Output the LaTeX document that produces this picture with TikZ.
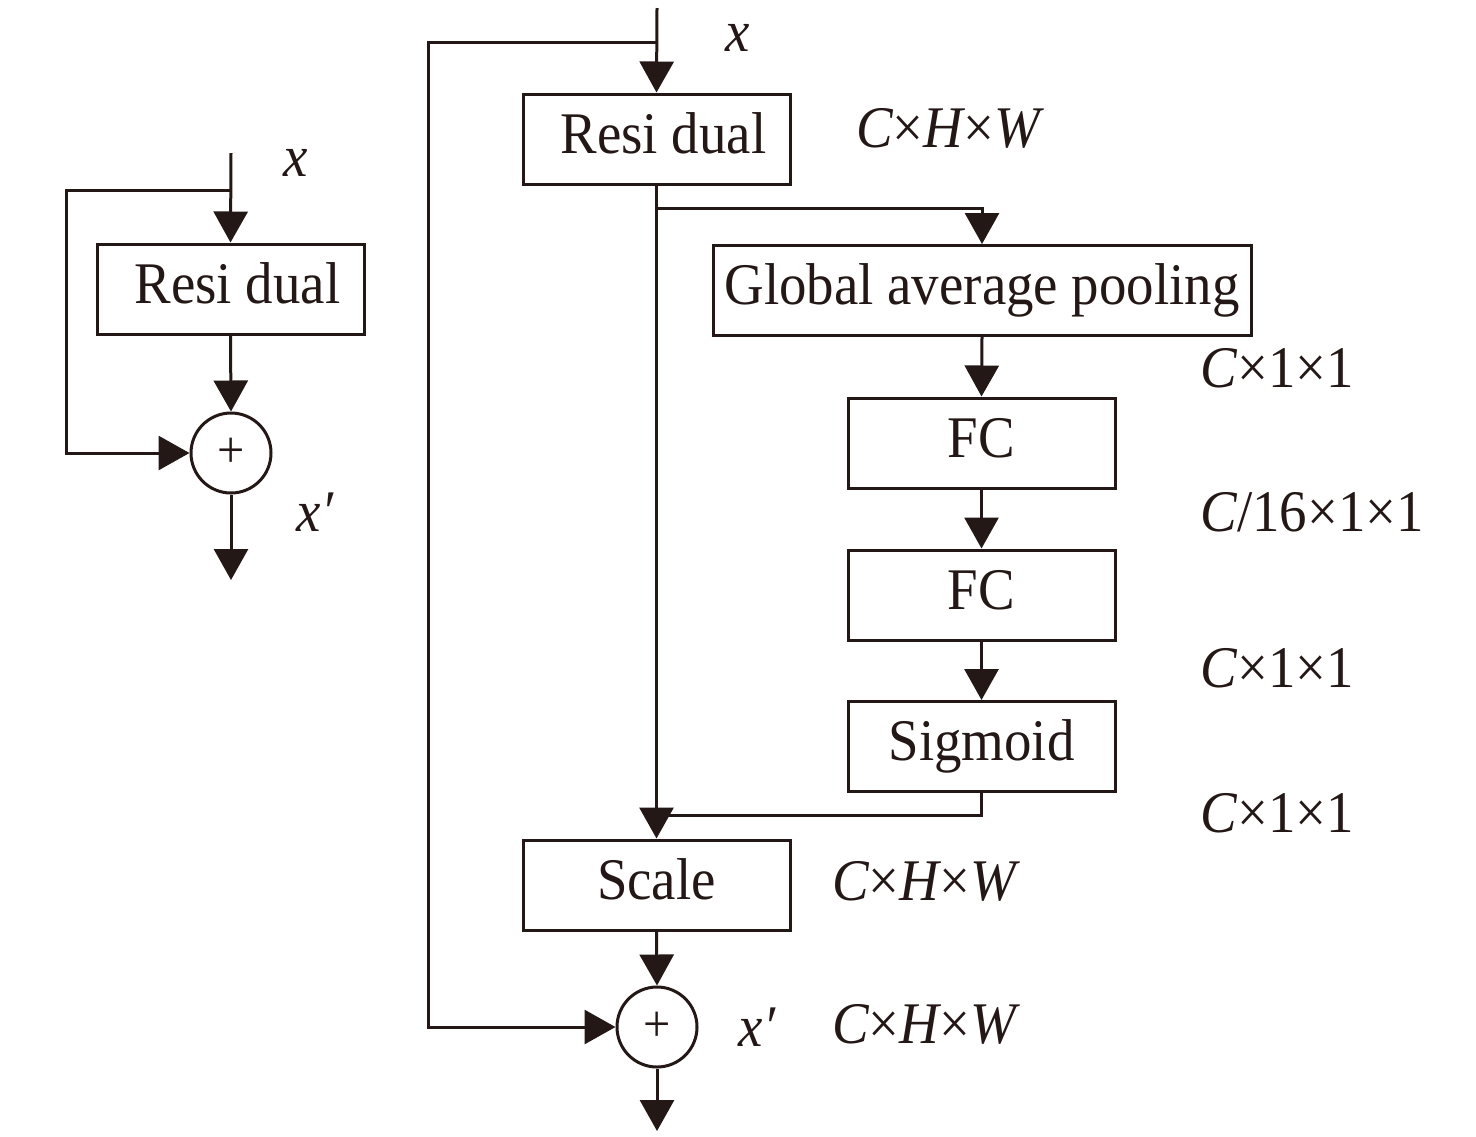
\documentclass[tikz,border=0pt]{standalone}
\usepackage{fontspec}
\setmainfont{Liberation Serif}[FakeStretch=0.93]
\usetikzlibrary{arrows.meta}
\definecolor{ink}{RGB}{35,24,21}
\tikzset{
  big/.style={font=\fontsize{29.5}{32}\selectfont},
  blockbox/.style={draw, rectangle, inner sep=0pt, minimum width=133.5pt, minimum height=45pt,
    text height=20pt, text depth=6pt, big},
  sumnode/.style={draw, circle, inner sep=0pt, minimum size=40pt, font=\fontsize{26}{26}\selectfont},
  lbl/.style={inner sep=0pt, big},
  arr/.style={-{Triangle[length=15.5pt,width=17pt]}},
}
\begin{document}
\begin{tikzpicture}[x=0.5pt,y=-0.5pt, line width=1.5pt, color=ink]
\useasboundingbox (0,0) rectangle (1476,1136);

% ---------- left diagram ----------
\coordinate (lin) at (231,153);
\coordinate (lsplit) at (231,190);
\coordinate (lleft) at (66,190);
\node[blockbox] (lbox) at (230.5,289) {\hspace*{7pt}Resi dual};
\node[sumnode] (lplus) at (231,453) {+};
\coordinate (lout) at (231,580);
\node[lbl] (lx) at (296,163) {\itshape x};
\node[lbl] (lxp) at (315,512) {\itshape x′};

\draw[arr] (lin) -- (lbox.north);
\draw[arr] (lsplit) -- (lleft) |- (lplus.west);
\draw[arr] (lbox.south) -- (lplus.north);
\draw[arr] (lplus.south) -- (lout);

% ---------- right diagram ----------
\coordinate (rin) at (657,8);
\coordinate (rsplit) at (657,42);
\coordinate (rleft) at (428,42);
\node[blockbox] (rbox) at (656.5,139) {\hspace*{7pt}Resi dual};
\coordinate (gsplit) at (657,208);
\node[blockbox, minimum width=269pt] (gap) at (982,290.5) {Global average pooling};
\node[blockbox] (fc1) at (981.5,443) {FC};
\node[blockbox] (fc2) at (981.5,595) {FC};
\node[blockbox] (sig) at (981.5,746.5) {Sigmoid};
\coordinate (join) at (657,815);
\node[blockbox] (scale) at (656.5,885) {Scale};
\node[sumnode] (rplus) at (657,1027) {+};
\coordinate (rout) at (657,1131);

\node[lbl] (rx) at (738,38) {\itshape x};
\node[lbl] (d1) at (948,128) {\itshape C\upshape×\itshape H\upshape×\itshape W};
\node[lbl, anchor=west] (d2) at (1199,368) {\itshape C\upshape×1×1};
\node[lbl, anchor=west] (d3) at (1199,512) {\itshape C\upshape/16×1×1};
\node[lbl, anchor=west] (d4) at (1199,668) {\itshape C\upshape×1×1};
\node[lbl, anchor=west] (d5) at (1199,813) {\itshape C\upshape×1×1};
\node[lbl] (d6) at (924,881) {\itshape C\upshape×\itshape H\upshape×\itshape W};
\node[lbl] (rxp) at (757,1027) {\itshape x′};
\node[lbl] (d7) at (924,1024) {\itshape C\upshape×\itshape H\upshape×\itshape W};

\draw[arr] (rin) -- (rbox.north);
\draw[arr] (rsplit) -- (rleft) |- (rplus.west);
\draw[arr] (rbox.south) -- (scale.north);
\draw[arr] (gsplit) -| (gap.north);
\draw[arr] (gap.south) -- (fc1.north);
\draw[arr] (fc1.south) -- (fc2.north);
\draw[arr] (fc2.south) -- (sig.north);
\draw (sig.south) |- (join);
\draw[arr] (scale.south) -- (rplus.north);
\draw[arr] (rplus.south) -- (rout);
\end{tikzpicture}
\end{document}
